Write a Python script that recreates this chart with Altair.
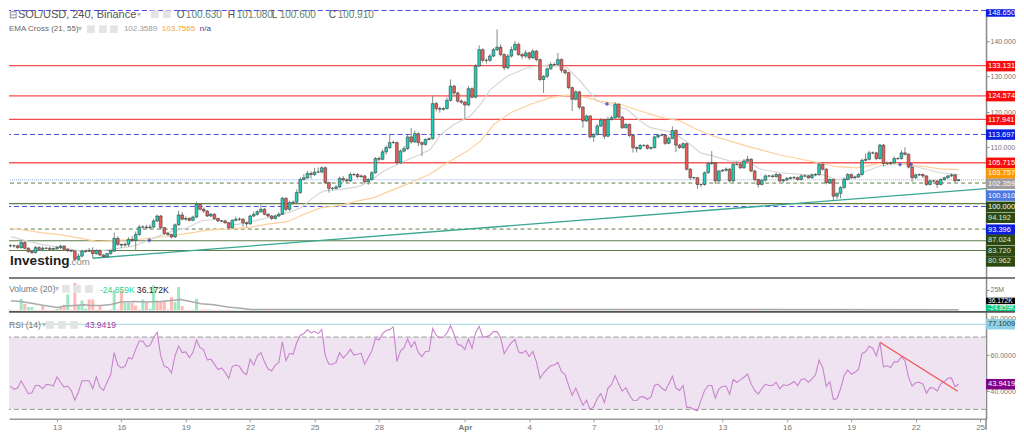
import altair as alt
import pandas as pd

FONT = "Liberation Sans"

# ---- price data, 4h candles, x in days counted from 1 March
first_day = 10.8333
closes = [82.3,82.3,81.8,83.2,81.6,80.7,80.4,81.8,81.3,81.6,
81.6,81.3,81.5,81.8,82.2,81.3,81.0,80.8,78.5,79.4,
80.7,80.8,81.0,80.1,81.0,79.7,79.2,80.1,80.8,84.4,
82.7,82.5,82.7,84.1,83.8,85.5,87.6,87.6,87.4,87.6,
89.3,90.7,87.4,85.8,85.5,84.8,88.2,91.0,89.8,90.0,
89.5,90.4,94.0,92.6,92.1,90.7,91.2,90.0,89.3,89.3,
88.8,87.4,89.5,89.8,89.8,88.8,88.5,90.7,91.2,91.9,
92.6,91.2,90.7,90.0,90.7,91.2,95.7,92.6,94.5,94.6,
97.3,101.0,101.5,102.7,102.4,103.1,103.1,104.3,100.1,98.5,
98.5,98.9,101.3,100.9,100.6,102.4,102.4,101.8,102.0,100.4,
101.0,102.9,106.9,106.7,108.8,110.0,111.4,111.4,105.7,109.0,
109.7,113.0,111.6,113.9,111.4,110.9,112.3,112.5,122.4,121.0,
120.8,121.0,123.3,127.3,125.4,123.1,122.8,122.0,126.6,124.2,
133.0,137.6,134.6,134.6,135.8,137.6,138.3,136.2,132.5,135.8,
137.6,139.1,136.2,135.8,136.7,135.3,137.2,134.8,129.2,130.1,
132.2,133.4,133.4,134.8,131.8,131.1,126.9,123.6,125.7,121.4,
117.5,118.9,113.0,113.7,116.1,117.8,113.2,117.9,118.4,122.2,
118.6,115.6,116.5,113.4,110.0,109.7,110.6,110.6,109.8,110.0,
113.0,113.5,113.5,111.2,112.6,114.8,110.7,110.0,111.1,103.9,
101.5,101.5,99.6,99.6,102.9,105.5,105.7,100.6,103.4,103.6,
103.9,100.6,105.3,105.3,104.3,106.2,106.7,103.4,101.0,99.6,
100.8,102.0,102.0,101.8,102.4,100.6,100.9,101.3,101.5,101.5,
101.0,102.0,102.0,101.5,102.3,102.4,105.3,103.9,100.1,101.0,
96.3,97.1,98.7,101.0,102.4,101.5,101.7,102.4,106.4,106.7,
108.5,108.5,106.9,110.7,105.5,105.5,105.7,106.9,106.9,108.5,
108.1,104.5,101.5,102.3,102.4,102.0,99.6,100.6,100.6,99.6,
101.0,101.5,102.0,102.3,100.63,100.91]
upper_wicks = [.5,.4,.3,.7,.4,.3,.3,.5,.4,.6,
.3,.4,.3,.5,.4,.3,.3,.2,.2,.8,
.5,.4,.7,.9,.3,.3,.2,.2,.3,1.6,
.6,.2,.5,.6,.9,.8,.6,.5,.6,.7,
.6,.4,.3,.3,.4,.2,.4,1.2,.8,.6,
.4,.4,.8,.4,.5,.3,.4,.3,.2,.3,
.4,.2,.3,.7,.5,.3,.4,.4,.8,.5,
1.4,.4,.3,.3,.4,.5,.4,.3,.5,.5,
.9,.6,1.0,.7,.6,1.2,1.3,.4,.4,.3,
.4,.5,.5,.7,.4,.6,.5,.4,.4,.3,
.4,.5,.4,.6,.7,.6,2.5,.6,.3,.5,
.7,.6,2.5,.9,.4,.3,.3,.4,2.3,.5,
.5,.4,.8,1.9,.4,.4,.5,.4,.8,.4,
.5,1.2,.4,.5,.6,.5,5.0,.8,.4,.6,
.9,.9,.5,.4,.8,.3,.6,.3,.3,.3,
.4,.7,.6,1.9,.4,.3,.3,.3,.5,.3,
.3,.4,.3,.4,.5,.5,.3,.8,.6,.6,
.3,.3,.4,.3,.2,.3,.4,.3,.3,.3,
.4,.3,.4,.3,.5,1.2,.4,.3,.4,.3,
.3,.3,.2,.2,.4,.5,3.3,.3,.3,.3,
.5,.3,.6,.8,.4,.6,1.0,.3,.3,.2,
.3,.4,.3,.4,.6,.3,.3,.4,.3,.5,
.3,.5,.4,.3,.4,.4,.5,.5,.3,.3,
.2,.2,.4,.6,.4,.3,.4,.4,.5,1.6,
.6,.4,.3,.4,.3,.6,.4,.6,.4,.8,
1.6,.3,.2,.4,.3,.3,.2,.4,.3,.2,
.3,.3,.3,.4,.2,.17]
lower_wicks = [.4,.5,.4,.3,.3,.4,.4,.3,.5,.6,
.3,.4,.5,.3,.4,.3,.5,.3,.3,.3,
.3,.4,.3,1.3,.3,.3,.3,.2,.3,.3,
.5,.8,.4,.7,.4,3.0,.4,.4,.3,.3,
.3,.3,.5,.5,.4,.4,.3,.2,.3,.4,
.3,.3,.2,.3,.5,.3,.3,.4,.3,.4,
.3,.5,.3,.3,.5,1.1,1.0,.3,.3,.4,
.3,.3,.4,.4,.3,.3,.2,.6,.5,.7,
.4,.3,.3,.4,1.2,.4,.3,.3,.4,1.2,
.5,.3,.3,.7,.5,.3,.4,.5,.3,.5,
.9,.3,.3,.6,.3,.8,.4,.3,.5,.3,
.4,.3,.5,.3,1.0,3.3,.4,.3,.3,.8,
1.0,.4,.3,.3,1.0,.5,.5,4.0,.3,.3,
.3,.3,.6,.9,.4,.3,.4,.5,.7,.4,
.4,.3,.3,.8,.6,.6,.3,.5,.5,3.8,
.6,.3,.3,.3,.7,.5,.4,3.3,.3,.7,
1.9,.3,.5,1.4,.3,.3,.8,.3,.3,.3,
.5,.4,.3,.5,1.4,1.1,.4,.4,.4,.5,
.3,.4,.3,.5,.3,.3,2.0,.4,.4,.4,
.6,.4,1.2,.8,.4,.3,.4,.9,.3,.3,
.4,.5,.3,.4,.3,.3,.4,.4,.5,.9,
.3,.3,.4,.3,.3,.5,.5,.4,.3,.4,
.4,.3,.4,.3,.3,.4,.3,.4,.5,.3,
1.4,.8,1.4,.3,.3,.3,.3,.3,.3,.3,
.3,.4,.5,.3,.8,.4,.3,.3,.4,.3,
.3,.4,1.2,.3,.3,.6,.4,.3,.4,1.0,
.3,.3,.3,.3,.4,.03]

ema21_days = [10.86,11.32,12.26,13.19,14.12,14.89,15.51,16.6,17.22,18.15,19.08,19.7,20.48,21.25,21.87,22.8,23.73,24.35,25.13,25.44,26.21,26.99,27.46,28.23,29.01,29.94,30.4,30.87,31.49,32.26,32.73,33.19,33.97,34.9,35.37,36.14,36.76,37.38,38.16,38.62,39.55,40.17,40.64,41.73,42.5,42.97,43.59,44.36,45.14,45.76,46.69,47.93,48.71,49.33,50.1,50.72,51.34,52.27,53.2,54.13,55.0]
ema21_vals = [84.9,84.1,82.7,81.8,80.8,80.8,81.3,82.3,83.8,86.0,87.4,89.3,89.8,88.2,88.8,90.2,91.6,93.0,96.8,97.8,98.2,98.9,100.1,103.4,105.7,108.1,109.5,113.7,116.5,118.9,122.2,126.4,130.1,132.5,133.0,133.4,132.5,128.7,123.1,122.2,120.8,117.5,115.6,114.2,110.9,108.5,107.6,106.2,106.2,103.9,102.9,102.3,102.3,101.0,101.5,103.4,104.8,105.5,104.3,102.9,102.36]
ema55_days = [10.86,11.32,12.26,13.19,14.12,14.89,15.67,16.91,18.15,19.08,20.01,20.94,21.87,22.8,23.73,24.51,25.28,26.21,26.99,27.77,28.7,29.47,30.4,31.18,32.11,32.73,33.35,34.13,35.06,35.99,36.76,37.38,38.31,39.24,40.17,41.1,42.04,42.81,43.59,45.14,46.69,48.24,49.33,50.26,51.34,52.27,53.2,54.13,55.0]
ema55_vals = [87.2,86.9,86.0,85.4,84.4,83.5,83.8,84.2,85.0,85.8,86.7,87.1,87.4,88.4,89.1,91.2,93.0,93.7,94.9,95.9,98.2,100.1,102.6,105.7,109.0,111.8,116.5,119.8,122.2,124.1,124.8,124.5,123.1,122.2,120.3,118.6,117.5,115.1,113.2,110.4,107.9,106.0,104.6,104.3,105.5,105.5,104.8,104.0,103.76]
trend_days = [14.66,56.27]
trend_vals = [78.79,98.4]
cross_days = [17.3,38.62,52.27,52.78]
cross_vals = [83.85,122.3,105.2,105.2]

red_levels = [133.131,124.574,117.941,105.715]
blue_levels = [148.650,113.697,93.396]
green_solid_levels = [94.192,83.720,80.962]
green_dash_levels = [100.000,87.024]
last_level = [100.910]

tag_labels = ["133.131","124.574","117.941","113.697","105.715","103.757","102.359","100.910","100.000","94.192","93.396","87.024","83.720","80.962"]
tag_places = [132.95,124.5,117.8,113.65,105.7,102.7,99.8,96.45,93.3,90.2,86.85,84.0,80.9,77.9]
tag_colors = ["#f60d0d","#f60d0d","#f60d0d","#0a1ee0","#f60d0d","#ff9800","#9e9e9e","#4a78e0","#2c4a12","#2c4a12","#0a1ee0","#2c4a12","#2c4a12","#2c4a12"]
tag_text = ["white","white","white","white","white","white","white","white","white","#dde4d4","white","#dde4d4","#dde4d4","#dde4d4"]

# ---- volume, millions
volumes = [.8,.5,.6,14.2,8.1,4.0,4.0,.6,.5,6.1,
.7,.6,.8,2.0,4.9,6.9,19.5,.9,33.7,6.1,
12.2,2.0,13.4,13.4,.8,5.3,.7,.6,.9,24.4,
1.0,24.4,9.3,9.3,9.3,6.1,1.0,13.4,9.3,2.0,
30.5,12.2,11.0,11.0,1.0,16.3,10.2,28.5,5.3,.6,
.5,.8,14.2,.7,1.0,1.1,.9,.8,.9,1.0,
.8,1.1,.7,.9,.8,.7,.9,1.0,.8,.7,
.9,.8,1.1,1.0,.8,.9,1.2,1.4,1.0,.9,
1.1,1.3,1.2,1.0,.9,1.1,1.0,.9,1.4,1.2,
.9,1.0,1.2,.8,.9,1.1,1.0,.8,.9,1.0,
.8,1.0,1.4,.9,1.2,1.1,1.0,.8,1.3,1.0,
.9,1.2,.9,1.0,.8,.9,1.0,.8,1.6,1.1,
.8,.7,1.0,1.2,1.0,.8,.7,.9,1.1,.9,
1.5,1.6,1.1,.8,.9,1.0,1.1,1.0,1.4,1.1,
1.0,1.1,.9,.8,.9,.8,1.0,.9,1.5,1.2,
1.0,.9,.8,.9,1.0,.9,1.2,1.3,1.0,1.1,
1.3,1.0,1.4,1.0,.9,1.0,1.2,1.1,.9,1.2,
1.0,1.1,.9,1.0,1.1,.9,.8,.7,.8,.7,
1.0,.8,.7,.9,.8,1.0,1.0,.8,.8,1.5,
1.2,.8,1.1,.9,1.0,1.1,.9,1.2,1.0,.8,
.7,1.0,1.1,.9,.8,.9,.8,1.0,1.0,1.1,
.8,.9,.7,.8,.7,1.0,.8,.7,.6,.7,
.8,.7,.6,.8,.7,.8,1.2,.9,1.2,.9,
1.5,1.0,1.0,.9,.8,.7,.6,.7,1.2,.9,
1.0,.8,.9,1.1,1.3,.9,.7,.8,.7,.9,
.7,1.0,1.1,.8,.7,.7,.9,.8,.6,.7,
.8,.7,.6,.6,.7,.4]
early_volume_up = [0,3,5,6,13,16,19,20,21,29,32,33,37,39,40,46,47,51,52]
vol_ma_days = [10.86,11.32,11.95,12.41,13.03,13.34,13.81,14.27,14.58,15.05,15.51,15.98,16.6,17.22,17.84,18.3,18.77,19.23,19.7,20.32,20.94,21.56,22.03,25.0,35.0,45.0,55.0]
vol_ma_vals = [11.8,11.0,8.1,6.1,3.7,5.3,6.1,6.9,6.1,6.1,7.3,10.2,11.0,10.2,11.0,12.2,13.4,11.0,8.1,6.9,4.1,2.8,1.2,1.1,1.2,1.1,0.9]

# ---- RSI
rsi = [42.9,41.1,41.8,45.8,42.3,38.7,39.2,43.2,43.2,41.4,
43.8,43.6,42.9,48.0,45.0,42.3,42.9,40.5,35.1,39.6,
45.8,45.8,45.8,41.4,48.0,42.3,40.5,45.0,49.1,61.4,
54.5,52.9,53.8,58.7,57.8,63.2,67.8,67.8,64.7,65.4,
69.6,72.7,59.6,53.8,53.1,50.1,59.6,65.0,61.4,61.8,
58.7,61.4,68.3,64.1,62.9,57.4,57.8,55.0,52.0,52.9,
50.5,47.2,53.8,54.5,53.8,50.5,49.2,57.8,54.5,59.6,
61.4,56.3,52.3,51.4,54.5,56.0,67.4,56.9,61.0,60.5,
66.9,70.9,71.9,74.1,72.3,73.2,71.9,74.1,59.6,55.0,
55.0,56.0,61.4,58.3,60.5,63.2,60.0,60.5,61.0,55.0,
58.7,62.3,69.2,68.3,71.9,73.6,74.1,75.6,56.5,62.3,
64.1,69.0,64.5,67.4,61.4,59.2,62.0,62.1,74.7,70.9,
69.6,69.9,72.3,76.3,71.4,65.8,65.4,63.2,69.0,63.8,
72.3,75.9,70.1,70.1,71.0,73.0,73.0,69.6,60.9,64.1,
66.9,68.7,61.8,61.0,62.5,59.2,62.0,56.3,47.2,50.1,
52.3,54.1,54.5,56.0,50.9,49.2,43.2,37.8,41.8,36.9,
32.3,35.1,30.0,31.4,36.0,38.7,33.8,41.8,43.8,48.7,
44.1,40.1,42.0,37.8,35.1,34.9,36.9,36.9,35.6,36.9,
43.2,44.0,41.8,40.3,44.1,48.3,41.8,40.5,43.2,31.1,
31.1,30.0,29.2,35.1,40.5,43.2,43.2,36.3,41.4,42.7,
42.9,38.3,46.5,45.0,46.3,47.8,49.6,44.1,40.5,38.5,
41.4,44.0,43.2,43.2,45.0,41.4,43.6,43.2,44.1,45.4,
43.2,46.5,46.9,45.0,46.9,49.1,57.2,53.2,42.7,45.4,
35.4,36.0,41.4,48.7,51.8,49.4,50.5,52.0,61.0,61.8,
64.9,63.8,59.6,66.9,53.6,54.1,53.2,56.3,56.3,59.0,
56.9,47.8,42.9,44.7,45.0,44.1,38.9,42.0,41.8,40.1,
44.1,45.4,47.2,47.4,42.5,43.94]
rsi_trend_days = [51.33,54.96]
rsi_trend_vals = [67.1,40.0]

tick_days = [13,16,19,22,25,28,32,35,38,41,44,47,50,53,56]
tick_labels = ["13","16","19","22","25","28","Apr","4","7","10","13","16","19","22","25"]

n = len(closes)
assert len(upper_wicks) == n and len(lower_wicks) == n and len(volumes) == n and len(rsi) == n, (n, len(upper_wicks), len(lower_wicks), len(volumes), len(rsi))

days = [first_day + i / 6 for i in range(n)]
opens = [closes[0]] + closes[:-1]
rows = []
for i in range(n):
    o, c = opens[i], closes[i]
    up = c >= o
    vup = (i in early_volume_up) if i < 53 else up
    rows.append(dict(d=days[i], o=o, c=c, h=max(o, c) + upper_wicks[i], l=min(o, c) - lower_wicks[i],
                     up="u" if up else "d", v=volumes[i], base=0, vdir="u" if vup else "d", rsi=rsi[i]))
df = pd.DataFrame(rows)

W = 978
RIGHT = 1007
AX = dict(grid=False, domainColor="#8a8a8a", domainWidth=1.5, tickColor="#8a8a8a", tickSize=3,
          labelColor="#777", labelFont=FONT, labelFontSize=7, labelPadding=1, orient="right")
xs = alt.Scale(domain=[10.766, 56.276], nice=False, zero=False, padding=0)
ps = alt.Scale(domain=[73.24, 149.01], nice=False, zero=False, padding=0)
vs = alt.Scale(domain=[-1.8, 39.6], nice=False, zero=False, padding=0)
rs = alt.Scale(domain=[24.8, 83.9], nice=False, zero=False, padding=0)
axes = {
    id(ps): alt.Axis(values=[110, 120, 130, 140], format=".3f", **AX),
    id(vs): alt.Axis(values=[25], labelExpr="'25M'", **AX),
    id(rs): alt.Axis(values=[40, 60, 80], format=".4f", **AX),
}
label_map = "{" + ",".join(f"'{d}':'{l}'" for d, l in zip(tick_days, tick_labels)) + "}"
x_bottom = alt.Axis(
    orient="bottom", values=tick_days, labelExpr=f"{label_map}[datum.value]", grid=False,
    domainColor="#9a9a9a", domainWidth=1.6, tickColor="#9a9a9a", tickSize=3,
    labelColor="#777", labelFont=FONT, labelFontSize=8, labelPadding=2,
    labelFontWeight=alt.condition("datum.value == 32", alt.value("bold"), alt.value("normal")))

def XX(scale):
    return alt.X("d:Q", scale=xs, title=None, axis=x_bottom if scale is rs else None)

def YY(field, scale):
    return alt.Y(field, scale=scale, title=None, axis=axes[id(scale)])

one = pd.DataFrame({"a": [0]})

def txt(t, x, y, color="#666", size=9, weight="normal", align="left"):
    return alt.Chart(one).mark_text(font=FONT, fontSize=size, fontWeight=weight, align=align, baseline="middle", color=color).encode(
        x=alt.value(x), y=alt.value(y), text=alt.value(t))

def icons(xlist, y):
    return [alt.Chart(one).mark_square(size=60, color="#e4e4e4", opacity=1).encode(x=alt.value(x), y=alt.value(y)) for x in xlist]

def levels(vals, color, width=1.0, dash=None, scale=ps):
    kw = dict(color=color, strokeWidth=width)
    if dash:
        kw["strokeDash"] = dash
    return alt.Chart(pd.DataFrame({"y": vals})).mark_rule(**kw).encode(y=YY("y:Q", scale))

def tags(labels, places, colors, tcolors, scale, x1=W, x2=RIGHT, h=10.5, size=7.5):
    d = pd.DataFrame({"t": labels, "p": places, "c": colors, "tc": tcolors})
    b = alt.Chart(d).mark_bar(height=h).encode(x=alt.value(x1), x2=alt.value(x2), y=YY("p:Q", scale), color=alt.Color("c:N", scale=None, legend=None))
    t = alt.Chart(d).mark_text(font=FONT, fontSize=size, align="left", baseline="middle").encode(
        x=alt.value(x1 + 2), y=YY("p:Q", scale), text="t:N", color=alt.Color("tc:N", scale=None, legend=None))
    return [b, t]

def line(days_, vals, color, width, scale):
    return alt.Chart(pd.DataFrame({"d": days_, "y": vals})).mark_line(color=color, strokeWidth=width, clip=True).encode(
        x=XX(scale), y=YY("y:Q", scale))

def sep():
    return alt.Chart(one).mark_rule(color="#555", strokeWidth=1.6).encode(x=alt.value(0), x2=alt.value(RIGHT), y=alt.value(0))

candle_colors = alt.Scale(domain=["u", "d"], range=["#1fd0bb", "#ec5f58"])
wick = alt.Chart(df).mark_rule(color="#7d8f86", strokeWidth=1).encode(
    x=XX(ps), y=YY("l:Q", ps), y2="h:Q")
body = alt.Chart(df).mark_bar(width=2.7, stroke="#3a3d3a", strokeWidth=0.6).encode(
    x=XX(ps), y=YY("o:Q", ps), y2="c:Q",
    color=alt.Color("up:N", scale=candle_colors, legend=None))

crosses = alt.Chart(pd.DataFrame({"d": cross_days, "y": cross_vals})).mark_point(shape="cross", size=14, filled=True, color="#3b3bb0", opacity=0.8).encode(
    x=XX(ps), y=YY("y:Q", ps))

logo = [
    alt.Chart(one).mark_text(text="Investing", font=FONT, fontSize=13.6, fontWeight="bold", align="left", baseline="middle", color="white", stroke="white", strokeWidth=3).encode(x=alt.value(1), y=alt.value(252)),
    txt("Investing", 1, 252, "#222", 13.6, "bold"),
    txt(".com", 60, 253, "#8a8a8a", 9.6),
]

header = [txt("\u229f", 0, 5.5, "#777", 10),
          txt("SOL/USD, 240, Binance", 9, 5.5, "#555", 11),
          txt("\u25be", 128, 5.5, "#bbb", 8)]
header += icons([146, 158], 5)
for lab, lx, val, vx in [("O", 168, "100.630", 177), ("H", 219, "101.080", 228), ("L", 263, "100.600", 271), ("C", 320, "100.910", 329)]:
    header += [txt(lab, lx, 5.5, "#555", 10), txt(val, vx, 5.5, "#5d8273", 10)]
header += [txt("EMA Cross (21, 55)", 0, 20, "#666", 8), txt("\u25be", 69, 20, "#bbb", 8)]
header += icons([82, 94, 105], 20)
header += [txt("102.3589", 115, 20, "#9a9a9a", 8), txt("103.7565", 153, 20, "#f5a623", 8), txt("n/a", 191, 20, "#3a3a9a", 8)]

price_tags = tags(tag_labels, tag_places, tag_colors, tag_text, ps)
top_tag = tags(["148.650"], [147.95], ["#0a1ee0"], ["white"], ps, h=7.5)

price_panel = alt.layer(
    levels(green_dash_levels, "#5f7d4a", 1, [4, 3]),
    levels(green_solid_levels, "#5f7d4a", 1.1),
    levels(blue_levels, "#4a4ae8", 1, [5, 3]),
    levels(red_levels[:3], "#fb4b4b", 1.2),
    levels([red_levels[3]], "#fb5a5a", 1.6),
    levels(last_level, "#b8c8f8", 1.6, [1, 1]),
    line(trend_days, trend_vals, "#3aa890", 1.3, ps),
    line(ema55_days, ema55_vals, "#fdd09a", 1.2, ps),
    line(ema21_days, ema21_vals, "#d6d6d6", 1.2, ps),
    wick, body, crosses,
    *logo, *header, *price_tags, *top_tag,
).properties(width=W, height=269)

vol_colors = alt.Scale(domain=["u", "d"], range=["#9be8c2", "#ffb8b2"])
vol_bars = alt.Chart(df).mark_bar(width=3).encode(
    x=XX(vs), y=YY("v:Q", vs), y2="base:Q",
    color=alt.Color("vdir:N", scale=vol_colors, legend=None))
vol_panel = alt.layer(
    vol_bars, line(vol_ma_days, vol_ma_vals, "#aaaaaa", 1.5, vs),
    sep(),
    txt("Volume (20)", 0, 11, "#777", 8.6), txt("\u25be", 46, 11, "#bbb", 8),
    *icons([57, 68, 80], 11),
    txt("-24.859K", 91, 12, "#2fd08a", 8.6), txt("36.172K", 128, 12, "#222", 8.6),
    *tags(["36.172K", "-24.859K"], [11.6, 2.4], ["#000000", "#00c878"], ["white", "white"], vs, h=6.5, size=6.6),
).properties(width=W, height=34)

band = alt.Chart(pd.DataFrame({"a": [70], "b": [30]})).mark_rect(color="#efe3f1").encode(
    y=YY("a:Q", rs), y2="b:Q")
rsi_line = alt.Chart(df).mark_line(color="#c884cc", strokeWidth=1.1).encode(x=XX(rs), y=YY("rsi:Q", rs))
rsi_panel = alt.layer(
    band,
    levels([70, 30], "#9c9c9c", 1, [5, 3], rs),
    levels([77.1009], "#9ed3e2", 1.1, None, rs),
    rsi_line,
    line(rsi_trend_days, rsi_trend_vals, "#f25050", 1.2, rs),
    sep(),
    alt.Chart(one).mark_rule(color="#8a8a8a", strokeWidth=1.5).encode(x=alt.value(W), y=alt.value(107), y2=alt.value(118)),
    txt("RSI (14)", 0, 13, "#777", 8.6), txt("\u25be", 33, 13, "#bbb", 8),
    *icons([41, 53, 65], 13),
    txt("43.9419", 76, 13, "#a040a8", 8.6),
    *tags(["77.1009"], [77.1009], ["#8fd0e2"], ["#2a3a40"], rs),
    *tags(["43.9419"], [43.94], ["#800088"], ["white"], rs),
).properties(width=W, height=107)

chart = alt.vconcat(price_panel, vol_panel, rsi_panel, spacing=0, bounds="flush").resolve_scale(
    x="independent", y="independent", color="independent"
).properties(padding=0).configure_view(stroke=None)

chart.save("out.html", embed_options={"renderer": "svg", "actions": False})
